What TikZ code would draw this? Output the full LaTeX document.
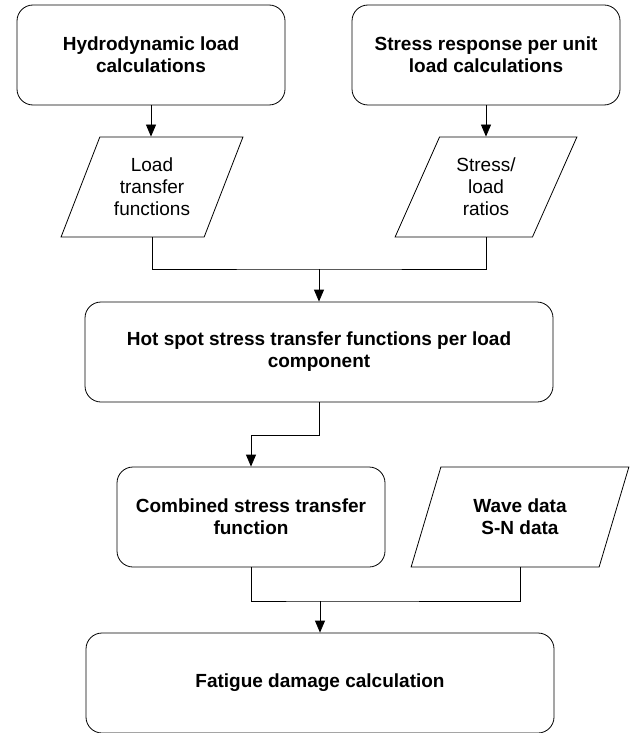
\documentclass[tikz,border=0pt]{standalone}
\usepackage{fontspec}
\setmainfont{Liberation Sans}
\usetikzlibrary{shapes.geometric,arrows.meta}
\def\boxfont{\fontsize{19}{22}\selectfont}
\tikzset{process/.style={draw, rounded corners=16pt, minimum width=268pt, minimum height=100pt,
		inner sep=0pt, align=center, font=\boxfont\bfseries},
	data/.style={draw, trapezium, trapezium left angle=64, trapezium right angle=116,
		trapezium stretches=true, minimum height=100pt, inner sep=0pt, align=center, font=\boxfont},
	line/.style={draw, line width=0.8pt},
	flow/.style={line, -{Triangle[length=12pt,width=10pt]}}}

\begin{document}
\begin{tikzpicture}[x=1pt,y=-1pt,line width=0.8pt]
		\useasboundingbox (0,0) rectangle (631,733);
		\node[process] (hydro) at (151,55) {Hydrodynamic load\\calculations};
		\node[process] (unit) at (486,55) {Stress response per unit\\load calculations};
		\node[data, minimum width=182pt] (ltf) at (152,187) {Load\\transfer\\functions};
		\node[data, minimum width=182pt] (ratio) at (486,187) {Stress/\\load\\ratios};
		\node[process, minimum width=468pt] (hotspot) at (319,352) {Hot spot stress transfer functions per load\\component};
		\node[process] (comb) at (251,517) {Combined stress transfer\\function};
		\node[data, minimum width=218pt, font=\boxfont\bfseries] (wave) at (520,517) {Wave data\\S-N data};
		\node[process, minimum width=468pt] (fatigue) at (320,683) {Fatigue damage calculation};
		
		\coordinate (j1) at (hotspot.north |- 0,269);
		\coordinate (j2) at (fatigue.north |- 0,601);
		
		\draw[flow] (hydro.south) -- (hydro.south |- ltf.north);
		\draw[flow] (unit.south) -- (unit.south |- ratio.north);
		\draw[line] (ltf.south) |- (j1) -| (ratio.south);
		\draw[flow] (j1) -- (hotspot.north);
		\draw[flow] (hotspot.south) -- ++(0,33) -| (comb.north);
		\draw[line] (comb.south) |- (j2) -| (wave.south);
		\draw[flow] (j2) -- (fatigue.north);
		\end{tikzpicture}
\end{document}
